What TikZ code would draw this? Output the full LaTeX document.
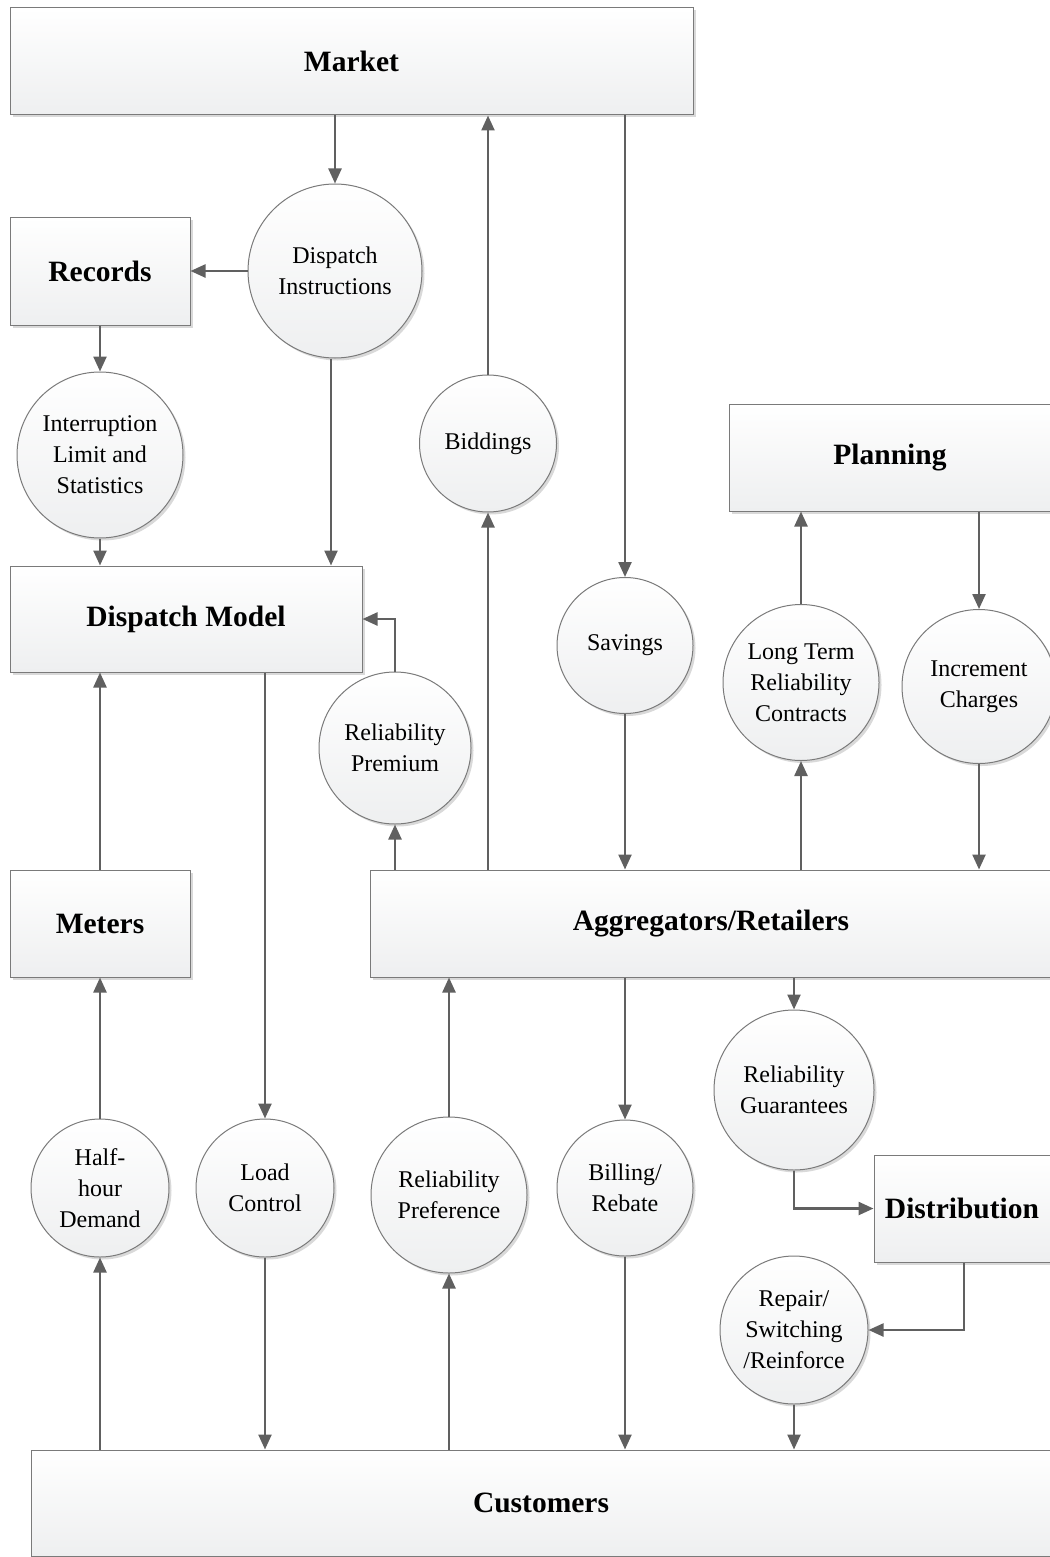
\documentclass[tikz,border=0pt]{standalone}
\usepackage{fontspec}
\setmainfont{Liberation Serif}
\usetikzlibrary{arrows.meta,shadows,calc}

\definecolor{linegray}{HTML}{606060}
\definecolor{edgegray}{HTML}{7A7A7A}
\definecolor{fillbot}{HTML}{EEEFF0}

\tikzset{
  unit/.style={draw=edgegray, line width=1pt, top color=white, bottom color=fillbot,
    drop shadow={shadow xshift=2.5pt, shadow yshift=-2.5pt, opacity=0.3, fill=black!50}},
  boxnode/.style={unit, rectangle, inner sep=0pt, font=\fontsize{29.5}{36}\selectfont\bfseries},
  flownode/.style={unit, circle, inner sep=0pt, align=center, font=\fontsize{24}{31}\selectfont},
  arr/.style={draw=linegray, line width=2.4pt, -{Triangle[length=15pt,width=13pt]}},
}

\begin{document}
\begin{tikzpicture}[x=1pt, y=-1pt]
\useasboundingbox (0,0) rectangle (1049,1557);

% entities
\node[boxnode, minimum width=683, minimum height=107] (market) at (351.5,61.5) {Market};
\node[boxnode, minimum width=180, minimum height=108] (records) at (100,271) {Records};
\node[boxnode, minimum width=352, minimum height=106] (dm) at (186,619) {Dispatch Model};
\node[boxnode, minimum width=322, minimum height=107] (plan) at (890,457.5) {Planning};
\node[boxnode, minimum width=180, minimum height=107] (meters) at (100,923.5) {Meters};
\node[boxnode, minimum width=682, minimum height=107] (agg) at (711,923.5) {Aggregators/Retailers};
\node[boxnode, minimum width=176, minimum height=107] (dist) at (962,1208.5) {Distribution};
\node[boxnode, minimum width=1020, minimum height=106] (cust) at (541,1503) {Customers};

% flows
\node[flownode, minimum size=174] (di) at (335,271) {Dispatch\\Instructions};
\node[flownode, minimum size=166] (ils) at (100,455) {Interruption\\Limit and\\Statistics};
\node[flownode, minimum size=137] (bid) at (488,443.5) {Biddings};
\node[flownode, minimum size=136] (sav) at (625,645.5) {Savings};
\node[flownode, minimum size=156] (ltr) at (801,682.5) {Long Term\\Reliability\\Contracts};
\node[flownode, minimum size=154] (inc) at (979,686.5) {Increment\\Charges};
\node[flownode, minimum size=152] (rp) at (395,748) {Reliability\\Premium};
\node[flownode, minimum size=160] (rg) at (794,1090) {Reliability\\Guarantees};
\node[flownode, minimum size=148] (rep) at (794,1330) {Repair/\\Switching\\/Reinforce};
\node[flownode, minimum size=138] (hh) at (100,1188) {Half-\\hour\\Demand};
\node[flownode, minimum size=138] (lc) at (265,1188) {Load\\Control};
\node[flownode, minimum size=156] (rpf) at (449,1195) {Reliability\\Preference};
\node[flownode, minimum size=136] (bill) at (625,1188) {Billing/\\Rebate};

% market side
\draw[arr] (di.north |- market.south) -- (di.north);
\draw[arr] (bid.north) -- (bid.north |- market.south);
\draw[arr] (sav.north |- market.south) -- (sav.north);
\draw[arr] (di.west) -- (records.east);
\draw[arr] (records.south) -- (ils.north);
\draw[arr] (ils.south) -- (ils.south |- dm.north);
\draw[arr] ([xshift=-4pt]di.south) -- ([xshift=-4pt]di.south |- dm.north);

% aggregator links
\draw[arr] (bid.south |- agg.north) -- (bid.south);
\draw[arr] (sav.south) -- (sav.south |- agg.north);
\draw[arr] (ltr.north) -- (ltr.north |- plan.south);
\draw[arr] (inc.north |- plan.south) -- (inc.north);
\draw[arr] (ltr.south |- agg.north) -- (ltr.south);
\draw[arr] (inc.south) -- (inc.south |- agg.north);
\draw[arr] (rp.south |- agg.north) -- (rp.south);
\draw[arr] (rp.north) |- (dm.east);
\draw[arr] (meters.north) -- (meters.north |- dm.south);

% customer links
\draw[arr] (lc.north |- dm.south) -- (lc.north);
\draw[arr] (lc.south) -- (lc.south |- cust.north);
\draw[arr] (hh.north) -- (hh.north |- meters.south);
\draw[arr] (hh.south |- cust.north) -- (hh.south);
\draw[arr] (rpf.north) -- (rpf.north |- agg.south);
\draw[arr] (rpf.south |- cust.north) -- (rpf.south);
\draw[arr] (bill.north |- agg.south) -- (bill.north);
\draw[arr] (bill.south) -- (bill.south |- cust.north);
\draw[arr] (rg.north |- agg.south) -- (rg.north);
\draw[arr] (rg.south) |- (dist.west);
\draw[arr] ([xshift=2pt]dist.south) |- (rep.east);
\draw[arr] (rep.south) -- (rep.south |- cust.north);
\end{tikzpicture}
\end{document}
